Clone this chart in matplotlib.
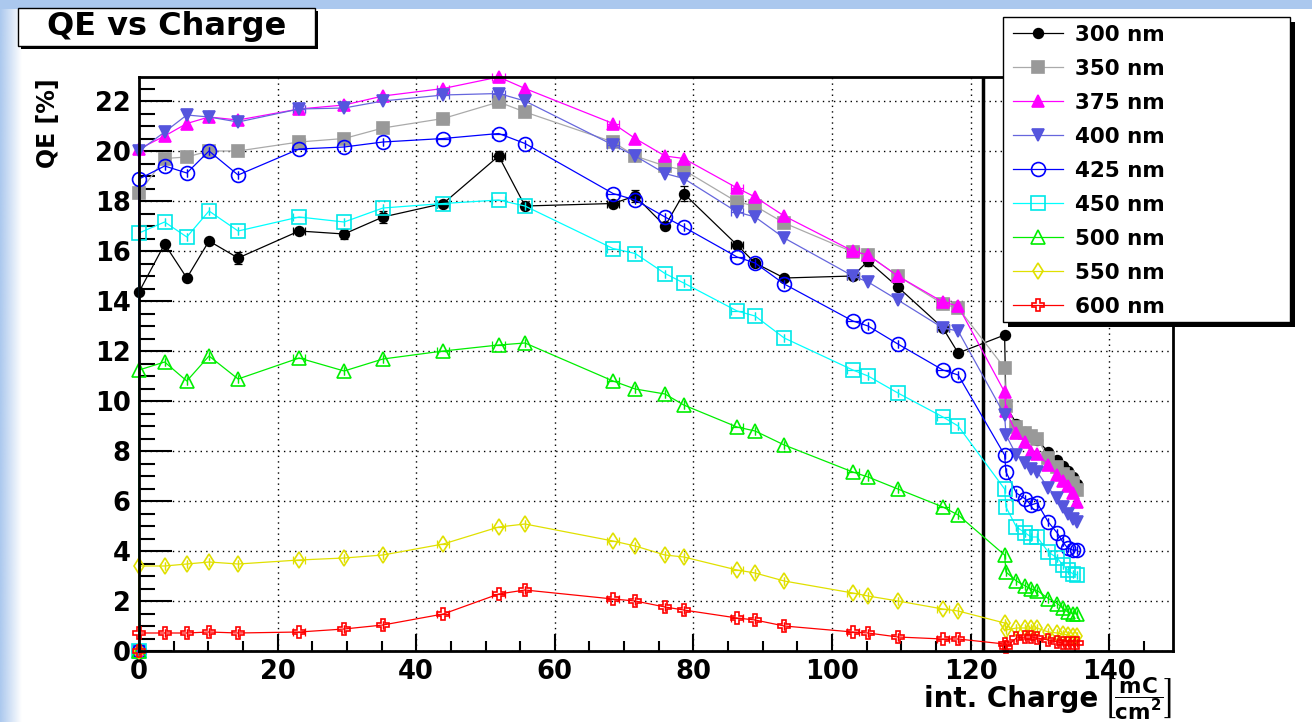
import matplotlib.pyplot as plt
import numpy as np
from matplotlib.patches import Rectangle
from matplotlib.ticker import MultipleLocator

plt.rcParams['font.family'] = 'DejaVu Sans'
plt.rcParams['font.weight'] = 'bold'
plt.rcParams['mathtext.default'] = 'bf'

# integrated charge in mC/cm^2 (same scan points for every wavelength)
charge = [0, 0, 3.7, 6.9, 10.1, 14.3, 23.1, 29.6, 35.2, 43.9, 51.9, 55.7,
          68.4, 71.6, 75.9, 78.6, 86.3, 88.9, 93.1, 103.0, 105.2, 109.5,
          116.0, 118.2, 124.9, 125.1, 126.6, 127.9, 128.7, 129.6, 131.2,
          132.5, 133.3, 134.0, 134.7, 135.4]
charge_err = [0, 0, 0, 0, 0, 0, 0.9, 0, 0, 0.9, 0.9, 0,
              0.9, 0, 0, 0, 0.9, 0, 0, 0.9, 0, 0,
              0.9, 0, 0, 0, 0, 0, 0, 0, 0,
              0, 0, 0, 0, 0]

qe_300 = [0, 14.36, 16.28, 14.92, 16.4, 15.72, 16.8, 16.68, 17.36, 17.9, 19.8, 17.8,
          17.9, 18.2, 17.0, 18.3, 16.24, 15.52, 14.92, 15.0, 15.6, 14.56,
          12.92, 11.92, 12.64, 9.8, 9.1, 8.75, 8.6, 8.45, 7.96,
          7.64, 7.4, 7.2, 6.95, 6.7]
qe_300_err = [0, 0, 0, 0, 0, 0.25, 0, 0.2, 0.25, 0, 0.2, 0,
              0, 0.25, 0, 0.3, 0, 0, 0, 0, 0.2, 0,
              0, 0, 0, 0, 0, 0, 0, 0, 0,
              0, 0, 0, 0, 0]
qe_350 = [0, 18.32, 19.7, 19.76, 20.0, 20.0, 20.36, 20.5, 20.92, 21.3, 21.96, 21.56,
          20.36, 19.8, 19.4, 19.24, 17.96, 17.8, 17.12, 15.96, 15.84, 15.0,
          13.88, 13.72, 11.32, 9.8, 8.96, 8.72, 8.6, 8.5, 7.72,
          7.36, 7.1, 6.96, 6.72, 6.44]
qe_375 = [0, 20.08, 20.6, 21.1, 21.36, 21.24, 21.68, 21.84, 22.2, 22.5, 22.96, 22.5,
          21.1, 20.5, 19.8, 19.7, 18.52, 18.16, 17.4, 16.0, 15.84, 15.0,
          13.96, 13.8, 10.36, 9.6, 8.72, 8.36, 7.96, 7.9, 7.44,
          7.04, 6.8, 6.6, 6.32, 5.96]
qe_400 = [0, 20.0, 20.76, 21.44, 21.36, 21.16, 21.68, 21.72, 22.0, 22.24, 22.3, 22.0,
          20.24, 19.8, 19.1, 18.9, 17.56, 17.36, 16.52, 15.0, 14.76, 14.04,
          12.92, 12.8, 9.44, 8.64, 7.84, 7.52, 7.3, 7.16, 6.52,
          6.12, 5.76, 5.5, 5.3, 5.16]
qe_425 = [0, 18.88, 19.4, 19.12, 20.0, 19.04, 20.08, 20.16, 20.36, 20.5, 20.7, 20.3,
          18.3, 18.04, 17.36, 16.96, 15.76, 15.52, 14.68, 13.2, 13.0, 12.28,
          11.24, 11.04, 7.84, 7.16, 6.32, 6.08, 5.84, 5.92, 5.16,
          4.72, 4.36, 4.12, 4.04, 4.04]
qe_450 = [0, 16.72, 17.16, 16.56, 17.6, 16.8, 17.36, 17.16, 17.72, 17.9, 18.04, 17.8,
          16.1, 15.9, 15.1, 14.72, 13.6, 13.4, 12.52, 11.24, 11.0, 10.32,
          9.36, 9.0, 6.48, 5.76, 4.96, 4.72, 4.56, 4.56, 3.96,
          3.72, 3.44, 3.24, 3.1, 3.04]
qe_500 = [0, 11.24, 11.56, 10.8, 11.8, 10.88, 11.72, 11.2, 11.68, 12.0, 12.24, 12.32,
          10.8, 10.48, 10.28, 9.84, 8.96, 8.8, 8.24, 7.16, 6.96, 6.48,
          5.76, 5.44, 3.84, 3.16, 2.8, 2.6, 2.48, 2.42, 2.1,
          1.9, 1.72, 1.56, 1.5, 1.48]
qe_550 = [0, 3.4, 3.4, 3.48, 3.56, 3.48, 3.64, 3.72, 3.84, 4.28, 4.96, 5.08,
          4.4, 4.2, 3.84, 3.76, 3.24, 3.12, 2.8, 2.32, 2.2, 2.0,
          1.68, 1.6, 1.12, 0.84, 0.92, 0.92, 0.92, 0.92, 0.76,
          0.72, 0.68, 0.64, 0.6, 0.6]
qe_600 = [0, 0.72, 0.72, 0.72, 0.76, 0.72, 0.76, 0.88, 1.04, 1.48, 2.28, 2.44,
          2.08, 2.0, 1.76, 1.64, 1.32, 1.24, 1.0, 0.76, 0.72, 0.56,
          0.48, 0.48, 0.28, 0.16, 0.52, 0.56, 0.56, 0.52, 0.44,
          0.36, 0.32, 0.32, 0.32, 0.32]

labels = ['300 nm', '350 nm', '375 nm', '400 nm', '425 nm',
          '450 nm', '500 nm', '550 nm', '600 nm']
series = [qe_300, qe_350, qe_375, qe_400, qe_425, qe_450, qe_500, qe_550, qe_600]
series_err = [qe_300_err] + [None] * 8

# line colour, marker colour, marker, size, filled
styles = [
    ('black',   'black',   'o', 7,  True),
    ('#aaaaaa', '#999999', 's', 8,  True),
    ('#ff00ff', '#ff00ff', '^', 8,  True),
    ('#6666dd', '#5555dd', 'v', 8,  True),
    ('#0000ff', '#0000ff', 'o', 10, False),
    ('#00ffff', '#00e8e8', 's', 10, False),
    ('#00ee00', '#00ee00', '^', 10, False),
    ('#e0e000', '#e0e000', 'd', 8,  False),
    ('#ff0000', '#ff0000', 'P', 9,  False),
]

cut_charge = 121.8

W, H = 1312, 722
fig = plt.figure(figsize=(W / 100, H / 100), dpi=100)


def frac(x0, y0, x1, y1):
    return [x0 / W, 1 - y1 / H, (x1 - x0) / W, (y1 - y0) / H]


# background: light blue band at the top and a fading band on the left
bg = fig.add_axes([0, 0, 1, 1], zorder=-10)
bg.set_xlim(0, W)
bg.set_ylim(H, 0)
bg.axis('off')
bg.add_patch(Rectangle((0, 0), W, 9, color='#abc8ee', lw=0))
grad = np.ones((2, 64, 4))
grad[..., :3] = [0xab / 255, 0xc8 / 255, 0xee / 255]
grad[..., 3] = np.linspace(1, 0, 64)
bg.imshow(grad, extent=(0, 22, H, 0), aspect='auto')

ax = fig.add_axes(frac(139, 77, 1173, 651))
for qe, qerr, lab, (lc, mc, m, ms, filled) in zip(series, series_err, labels, styles):
    ax.errorbar(charge, qe, xerr=charge_err, yerr=qerr, fmt='none', ecolor=mc,
                elinewidth=0.9, capsize=3, capthick=0.9, clip_on=False)
    ax.plot(charge, qe, color=lc, lw=0.9, marker=m, ms=ms,
            mfc=mc if filled else 'none', mec=mc, mew=1.2,
            label=lab, clip_on=False)

ax.axvline(cut_charge, color='black', lw=2.5, zorder=1.5)

ax.set_xlim(0, 149.2)
ax.set_ylim(0, 22.96)
ax.xaxis.set_major_locator(MultipleLocator(20))
ax.xaxis.set_minor_locator(MultipleLocator(5))
ax.yaxis.set_major_locator(MultipleLocator(2))
ax.yaxis.set_minor_locator(MultipleLocator(0.5))
ax.tick_params(which='both', direction='in', top=False, right=False,
               width=1.5, labelsize=18.5)
ax.tick_params(axis='y', which='major', length=23.8, pad=6)
ax.tick_params(axis='y', which='minor', length=11.5)
ax.tick_params(axis='x', which='major', length=12.2, pad=6)
ax.tick_params(axis='x', which='minor', length=7.2)
ax.grid(True, which='major', color='black', linestyle=(0, (1, 3)), lw=1)
for sp in ax.spines.values():
    sp.set_linewidth(2)

fig.text(48 / W, 1 - 78 / H, 'QE [%]', rotation=90, ha='center', va='top',
         fontsize=17)
# axis title: plain words, then the bracketed unit fraction
fig.text(1098 / W, 1 - 699 / H, 'int. Charge', ha='right', va='center',
         fontsize=20)
fig.text(1172 / W, 1 - 699 / H, r'$\left[\dfrac{mC}{cm^{2}}\right]$',
         ha='right', va='center', fontsize=15.5)

# title box and legend box with drop shadows
ov = fig.add_axes([0, 0, 1, 1], zorder=5)
ov.set_xlim(0, W)
ov.set_ylim(H, 0)
ov.axis('off')
ov.add_patch(Rectangle((21, 11), 297, 38, color='black', lw=0))
ov.add_patch(Rectangle((18, 8), 297, 38, fc='white', ec='black', lw=1))
ov.text(167, 27, 'QE vs Charge', ha='center', va='center', fontsize=23)

ov.add_patch(Rectangle((1008, 22), 287, 305, color='black', lw=0))
ov.add_patch(Rectangle((1003, 17), 287, 305, fc='white', ec='black', lw=1))
handles, labs = ax.get_legend_handles_labels()
ov.legend(handles, labs, loc='upper left',
          bbox_to_anchor=(1013 / W, 1 - 25 / H), bbox_transform=fig.transFigure,
          frameon=False, fontsize=15.5, handlelength=2.33, handletextpad=0.55,
          labelspacing=0.65, borderpad=0, borderaxespad=0)

fig.savefig('out.png', dpi=100)
